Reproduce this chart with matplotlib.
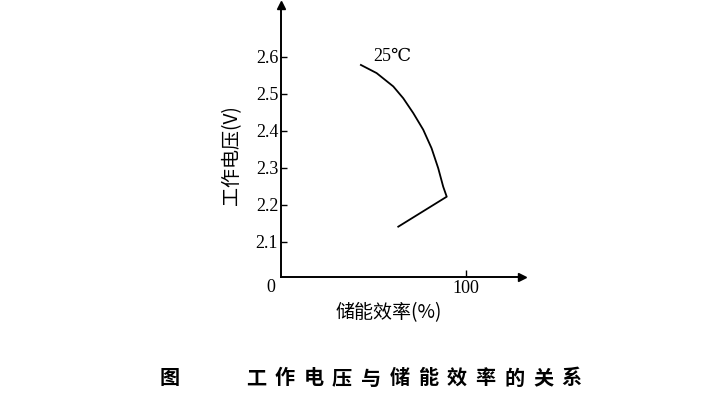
import matplotlib
matplotlib.use("Agg")
import matplotlib.pyplot as plt

# Data
efficiency = [43.2, 51.7, 60.7, 66.1, 71.5, 76.9, 81.4, 85.0, 87.7, 89.6, 63.4]
voltage = [2.578, 2.556, 2.520, 2.488, 2.448, 2.403, 2.353, 2.299, 2.249, 2.222, 2.141]
y_ticks = [2.1, 2.2, 2.3, 2.4, 2.5, 2.6]
y_tick_labels = ["2.1", "2.2", "2.3", "2.4", "2.5", "2.6"]
x_ticks = [100]
x_tick_labels = ["100"]
curve_label = "25℃"
x_label = "储能效率(%)"
y_label = "工作电压(V)"
caption_prefix = "图"
caption = "工作电压与储能效率的关系"

CJK = ["Noto Sans CJK SC", "DejaVu Sans"]
SERIF = ["Liberation Serif", "DejaVu Serif"]

W, H = 708, 404
fig = plt.figure(figsize=(W / 100, H / 100), dpi=100)
fig.patch.set_facecolor("white")

x0, x1 = 281, 522   # pixel x of origin and arrow tip
y0, y1 = 277, 5     # pixel y of origin and arrow tip
ax = fig.add_axes([x0 / W, 1 - y0 / H, (x1 - x0) / W, (y0 - y1) / H])
ax.set_xlim(0, 130.3)
ax.set_ylim(2.005, 2.74)

ax.plot(efficiency, voltage, color="black", lw=1.3, solid_joinstyle="round")

for s in ["top", "right"]:
    ax.spines[s].set_visible(False)
for s in ["left", "bottom"]:
    ax.spines[s].set_linewidth(1.4)

# arrows
ax.plot(1, 0, ">", color="black", markersize=6, transform=ax.transAxes, clip_on=False)
ax.plot(0, 1, "^", color="black", markersize=6, transform=ax.transAxes, clip_on=False)

ax.set_yticks(y_ticks)
ax.set_yticklabels(y_tick_labels, fontfamily=SERIF, fontsize=13)
ax.set_xticks(x_ticks)
ax.set_xticklabels(x_tick_labels, fontfamily=SERIF, fontsize=13)
ax.tick_params(axis="y", direction="in", length=4, width=1, pad=2)
ax.tick_params(axis="x", direction="in", length=5, width=1, pad=2)

ax.text(-3, 2.0, "0", fontfamily=SERIF, fontsize=13, ha="right", va="top")
ax.text(50, 2.6, curve_label, fontfamily=SERIF, fontsize=13, ha="left", va="center")

ax.set_xlabel(x_label, fontfamily=CJK, fontsize=13.7, labelpad=0)
ax.xaxis.set_label_coords((389 - x0) / (x1 - x0), (y0 - 302) / (y0 - y1))
ax.set_ylabel(y_label, fontfamily=CJK, fontsize=13.7)
ax.yaxis.set_label_coords((242 - x0) / (x1 - x0), (y0 - 155) / (y0 - y1))

fig.text(170 / W, 1 - 378 / H, caption_prefix, fontfamily=CJK, fontsize=14.5,
         fontweight="bold", ha="center", va="center")
for i, ch in enumerate(caption):
    fig.text((256 + 28.7 * i) / W, 1 - 378 / H, ch, fontfamily=CJK, fontsize=14.5,
             fontweight="bold", ha="center", va="center")

fig.savefig("out.png", dpi=100, facecolor="white")
